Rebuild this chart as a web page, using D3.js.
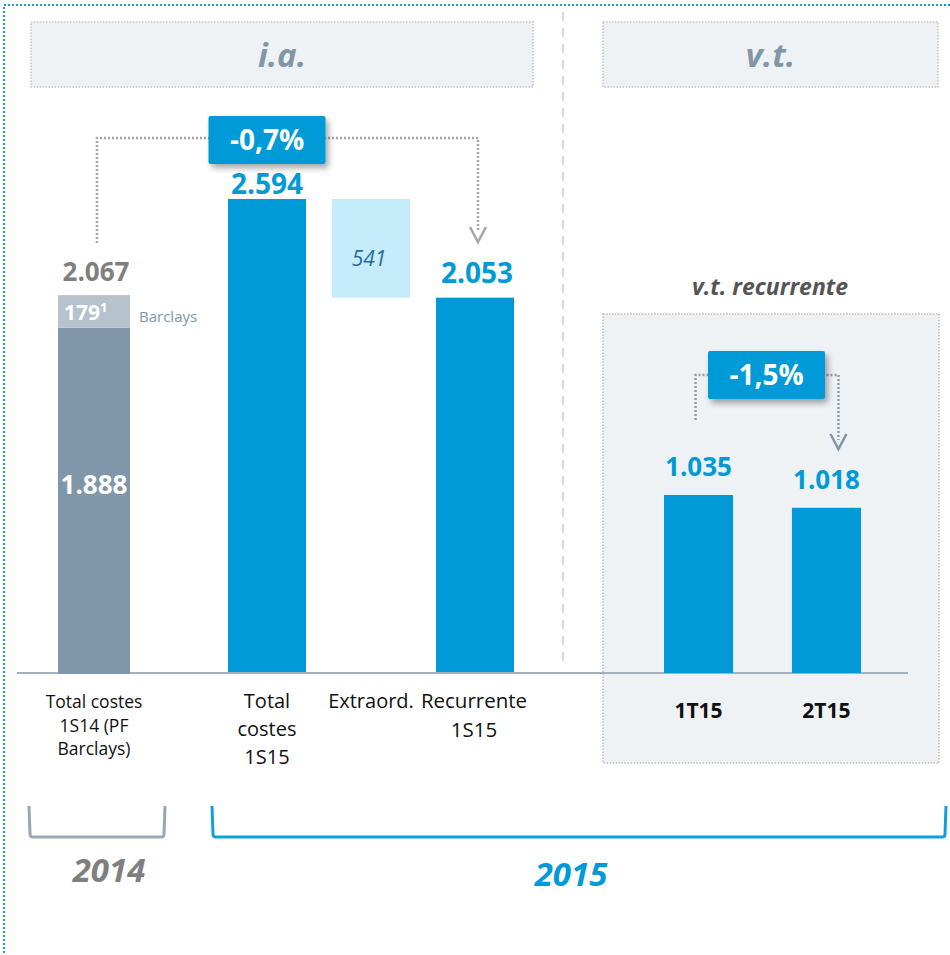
<!DOCTYPE html>
<html><head><meta charset="utf-8">
<script src="https://cdn.jsdelivr.net/npm/d3@7"></script>
<style>
html,body{margin:0;padding:0;background:#fff;}
svg{display:block;font-family:"Open Sans", Lato, sans-serif;}
</style></head>
<body>
<script>
// ---- data ----
const cats2014 = ["Total costes 1S14 (PF Barclays)"];
const base2014 = [1888];
const barclays2014 = [179];
const total2014 = [2067];
const cats2015 = ["Total costes 1S15", "Extraord.", "Recurrente 1S15"];
const values2015 = [2594, 541, 2053];
const quarterCats = ["1T15", "2T15"];
const quarterValues = [1035, 1018];
const changeLabels = ["-0,7%", "-1,5%"];
const headerLabels = ["i.a.", "v.t."];
const yearLabels = ["2014", "2015"];
const catLines = [["Total costes", "1S14 (PF", "Barclays)"], ["Total", "costes", "1S15"], ["Extraord."], ["Recurrente", "1S15"]];

const fmt = v => d3.format(",")(v).replace(/,/g, ".");

const W = 950, H = 955;
const svg = d3.select("body").append("svg").attr("width", W).attr("height", H);
const defs = svg.append("defs");
const f = defs.append("filter").attr("id", "sh").attr("x", "-20%").attr("y", "-20%").attr("width", "150%").attr("height", "170%");
f.append("feDropShadow").attr("dx", 3).attr("dy", 4).attr("stdDeviation", 3).attr("flood-color", "#000").attr("flood-opacity", 0.35);

const BLUE = "#009ad8", GRAY = "#8097a9", LGRAY = "#b6c3ce", LBLUE = "#c6ebfb";
const baseY = 672;

// outer border
svg.append("rect").attr("x", 4).attr("y", 5).attr("width", 990).attr("height", 990)
  .attr("fill", "none").attr("stroke", "#1a9ad6").attr("stroke-width", 2).attr("stroke-dasharray", "2,2");

// separator
svg.append("line").attr("x1", 563).attr("x2", 563).attr("y1", 12).attr("y2", 665)
  .attr("stroke", "#d9d9d9").attr("stroke-width", 2).attr("stroke-dasharray", "9,7");

// headers
const headers = [{x0: 31, x1: 533}, {x0: 603, x1: 938}];
headers.forEach((h, i) => {
  svg.append("rect").attr("x", h.x0).attr("y", 22).attr("width", h.x1 - h.x0).attr("height", 65)
    .attr("fill", "#eff2f4").attr("stroke", "#c4c4c4").attr("stroke-width", 1.5).attr("stroke-dasharray", "1.5,1.5");
  svg.append("text").attr("x", (h.x0 + h.x1) / 2).attr("y", 67).attr("text-anchor", "middle")
    .attr("font-size", 33).attr("font-weight", 700).attr("font-style", "italic").attr("fill", GRAY)
    .text(headerLabels[i]);
});

// right panel box
svg.append("rect").attr("x", 603).attr("y", 314).attr("width", 336).attr("height", 449)
  .attr("fill", "#eff2f4").attr("stroke", "#bdbdbd").attr("stroke-width", 1.5).attr("stroke-dasharray", "1.5,1.5");
svg.append("text").attr("x", 770).attr("y", 295).attr("text-anchor", "middle")
  .attr("font-size", 23).attr("font-weight", 700).attr("font-style", "italic").attr("fill", "#555")
  .text("v.t. recurrente");

// scales
const y = d3.scaleLinear().domain([0, d3.max(values2015)]).range([baseY, 199]);
const x14 = d3.scaleBand().domain(cats2014).range([58, 130]);
const x15 = d3.scaleBand().domain(cats2015).range([228, 514]).paddingInner(0.25);
const yq = d3.scaleLinear().domain([800, d3.max(quarterValues)]).range([baseY, 495]);
const xq = d3.scaleBand().domain(quarterCats).range([664, 861]).paddingInner(0.46);

// baseline
svg.append("line").attr("x1", 17).attr("x2", 908).attr("y1", baseY + 1).attr("y2", baseY + 1)
  .attr("stroke", "#a3b1bb").attr("stroke-width", 2);

// 2014 stacked bar
svg.selectAll(".b14").data(cats2014).join("rect")
  .attr("x", d => x14(d)).attr("width", x14.bandwidth())
  .attr("y", (d, i) => y(base2014[i])).attr("height", (d, i) => baseY + 2 - y(base2014[i])).attr("fill", GRAY);
svg.selectAll(".b14b").data(cats2014).join("rect")
  .attr("x", d => x14(d)).attr("width", x14.bandwidth())
  .attr("y", (d, i) => y(base2014[i] + barclays2014[i]))
  .attr("height", (d, i) => y(base2014[i]) - y(base2014[i] + barclays2014[i])).attr("fill", LGRAY);
cats2014.forEach((c, i) => {
  const cx = x14(c) + x14.bandwidth() / 2;
  svg.append("text").attr("x", cx).attr("y", y(base2014[i]) + 166).attr("text-anchor", "middle")
    .attr("font-size", 26).attr("font-weight", 700).attr("fill", "#fff").text(fmt(base2014[i]));
  const t = svg.append("text").attr("x", x14(c) + 6).attr("y", y(base2014[i] + barclays2014[i]) + 25)
    .attr("font-size", 21).attr("font-weight", 700).attr("fill", "#fff");
  t.append("tspan").text(barclays2014[i]);
  t.append("tspan").attr("font-size", 13).attr("dy", -8).text("1");
  svg.append("text").attr("x", x14(c) + x14.bandwidth() + 9).attr("y", y(base2014[i] + barclays2014[i]) + 27)
    .attr("font-size", 15).attr("fill", GRAY).text("Barclays");
  svg.append("text").attr("x", cx + 2).attr("y", y(total2014[i]) - 14).attr("text-anchor", "middle")
    .attr("font-size", 26).attr("font-weight", 700).attr("fill", "#7f7f7f").text(fmt(total2014[i]));
});

// 2015 waterfall
const tops = [values2015[0], values2015[0], values2015[2]];
const bottoms = [0, values2015[0] - values2015[1], 0];
svg.selectAll(".b15").data(cats2015).join("rect")
  .attr("x", d => x15(d)).attr("width", x15.bandwidth())
  .attr("y", (d, i) => y(tops[i])).attr("height", (d, i) => y(bottoms[i]) - y(tops[i]))
  .attr("fill", (d, i) => i === 1 ? LBLUE : BLUE);
// labels
const cx15 = d => x15(d) + x15.bandwidth() / 2;
svg.append("text").attr("x", cx15(cats2015[0])).attr("y", y(values2015[0]) - 5).attr("text-anchor", "middle")
  .attr("font-size", 28).attr("font-weight", 700).attr("fill", BLUE).text(fmt(values2015[0]));
svg.append("text").attr("x", cx15(cats2015[1]) - 2).attr("y", (y(tops[1]) + y(bottoms[1])) / 2 + 18).attr("text-anchor", "middle")
  .attr("font-size", 21).attr("font-style", "italic").attr("fill", "#1f6e9c").text(values2015[1]);
svg.append("text").attr("x", cx15(cats2015[2]) + 2).attr("y", y(values2015[2]) - 15).attr("text-anchor", "middle")
  .attr("font-size", 28).attr("font-weight", 700).attr("fill", BLUE).text(fmt(values2015[2]));

// quarters
svg.selectAll(".bq").data(quarterCats).join("rect")
  .attr("x", d => xq(d)).attr("width", xq.bandwidth())
  .attr("y", (d, i) => yq(quarterValues[i])).attr("height", (d, i) => baseY + 1 - yq(quarterValues[i]))
  .attr("fill", BLUE);
const cxq = d => xq(d) + xq.bandwidth() / 2;
quarterCats.forEach((c, i) => {
  svg.append("text").attr("x", cxq(c)).attr("y", yq(quarterValues[i]) - 19).attr("text-anchor", "middle")
    .attr("font-size", 26).attr("font-weight", 700).attr("fill", BLUE).text(fmt(quarterValues[i]));
  svg.append("text").attr("x", cxq(c)).attr("y", 718).attr("text-anchor", "middle")
    .attr("font-size", 21).attr("font-weight", 700).attr("fill", "#111").text(c);
});

// category labels
const catCenters = [x14(cats2014[0]) + x14.bandwidth() / 2, cx15(cats2015[0]), cx15(cats2015[1]), cx15(cats2015[2])];
const catFont = [17.5, 20, 20, 20.5];
const catLH = [23.5, 28, 28, 29];
catLines.forEach((lines, i) => {
  const t = svg.append("text").attr("text-anchor", "middle").attr("font-size", catFont[i]).attr("fill", "#111");
  lines.forEach((l, j) => t.append("tspan").attr("x", catCenters[i] + (i === 3 ? -1 : 0)).attr("y", 708 + j * catLH[i]).text(l));
});

// change connectors
const dot = {stroke: "#a6a6a6", "stroke-width": 2.5, "stroke-dasharray": "2,2", fill: "none"};
function path(pts, col) {
  const p = svg.append("path").attr("d", d3.line()(pts));
  Object.entries(dot).forEach(([k, v]) => p.attr(k, v));
  if (col) p.attr("stroke", col);
  return p;
}
function chevron(x, yTip, col) {
  svg.append("path").attr("d", d3.line()([[x - 8, yTip - 15], [x, yTip], [x + 8, yTip - 15]]))
    .attr("fill", "none").attr("stroke", col).attr("stroke-width", 2.5);
}
const c0x = catCenters[0] + 3, cRx = cx15(cats2015[2]) + 3;
path([[c0x, 243], [c0x, 138], [cRx, 138], [cRx, 232]]);
chevron(cRx, 242, "#a6a6a6");
function changeBox(cx, cy, w, h, label) {
  svg.append("rect").attr("x", cx - w / 2).attr("y", cy - h / 2).attr("width", w).attr("height", h)
    .attr("fill", BLUE).attr("rx", 2).attr("filter", "url(#sh)");
  svg.append("text").attr("x", cx).attr("y", cy + 10).attr("text-anchor", "middle")
    .attr("font-size", 28).attr("font-weight", 700).attr("fill", "#fff").text(label);
}
changeBox(cx15(cats2015[0]), 140, 117, 48, changeLabels[0]);

const q0x = cxq(quarterCats[0]) - 3, q1x = cxq(quarterCats[1]) + 12;
path([[q0x, 420], [q0x, 375], [q1x, 375], [q1x, 440]], "#8e9ca8");
chevron(q1x, 449, "#8097a9");
changeBox((cxq(quarterCats[0]) + cxq(quarterCats[1])) / 2 + 4, 375, 117, 48, changeLabels[1]);

// year brackets
function bracket(x0, x1, col) {
  svg.append("path").attr("d", `M${x0},806 L${x0 + 1},834 Q${x0 + 1},837 ${x0 + 4},837 L${x1 - 4},837 Q${x1 - 1},837 ${x1 - 1},834 L${x1},806`)
    .attr("fill", "none").attr("stroke", col).attr("stroke-width", 3);
}
bracket(29, 165, "#98a8b3");
bracket(212, 946, "#0ea0db");
svg.append("text").attr("x", 109).attr("y", 882).attr("text-anchor", "middle")
  .attr("font-size", 33).attr("font-weight", 700).attr("font-style", "italic").attr("fill", "#7f7f7f").text(yearLabels[0]);
svg.append("text").attr("x", 571).attr("y", 886).attr("text-anchor", "middle")
  .attr("font-size", 33).attr("font-weight", 700).attr("font-style", "italic").attr("fill", BLUE).text(yearLabels[1]);
</script>
</body></html>
